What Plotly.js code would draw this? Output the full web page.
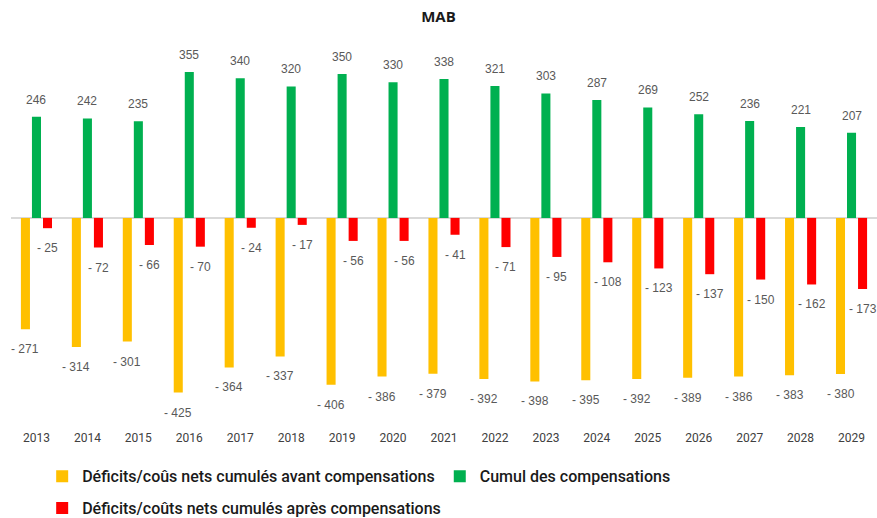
<!DOCTYPE html>
<html><head><meta charset="utf-8">
<script src="https://cdn.plot.ly/plotly-3.0.1.min.js"></script>
<style>body{margin:0;background:#fff}#c{width:877px;height:518px}</style>
</head><body><div id="c"></div>
<script>
const years = ['2013','2014','2015','2016','2017','2018','2019','2020','2021','2022','2023','2024','2025','2026','2027','2028','2029'];
const avant = [-271,-314,-301,-425,-364,-337,-406,-386,-379,-392,-398,-395,-392,-389,-386,-383,-380];
const compensations = [246,242,235,355,340,320,350,330,338,321,303,287,269,252,236,221,207];
const apres = [-25,-72,-66,-70,-24,-17,-56,-56,-41,-71,-95,-108,-123,-137,-150,-162,-173];
const names = ['Déficits/coûs nets cumulés avant compensations','Cumul des compensations','Déficits/coûts nets cumulés après compensations'];
const colors = ['#FFC000','#00B050','#FF0000'];

const fmt = v => v < 0 ? '- ' + Math.abs(v) : String(v);
const series = [avant, compensations, apres];
const traces = series.map((s,i)=>({
  type:'bar', x:years, y:s, name:names[i], marker:{color:colors[i]},
  hoverinfo:'skip', legend: i===2 ? 'legend2' : 'legend'
}));
const annotations = [];
const xs = [-11,0,11];
series.forEach((s,i)=>{
  s.forEach((v,j)=>{
    annotations.push({x:j, y:v, xref:'x', yref:'y', text:fmt(v), showarrow:false,
      xshift:xs[i], yshift: v<0 ? -20 : 17,
      font:{family:'Liberation Sans, Arial, sans-serif', size:12, color:'#595959'}});
  });
});
const legendFont = {family:'Roboto, sans-serif', size:16, weight:500, color:'#1a1a1a'};
const layout = {
  width:877, height:518,
  margin:{l:11, r:0, t:40, b:93, autoexpand:false},
  paper_bgcolor:'#fff', plot_bgcolor:'#fff',
  title:{text:'<b>MAB</b>', x:0.5, xanchor:'center', y:0.967, yanchor:'middle',
    font:{family:'Open Sans, sans-serif', size:15, color:'#1a1a1a'}},
  barmode:'group', bargap:0.35, bargroupgap:0.18,
  xaxis:{type:'category', range:[-0.5,16.5], autorange:false, showgrid:false, showline:false, ticks:'', ticklen:0,
    ticklabelstandoff:4,
    tickfont:{family:'Roboto, sans-serif', size:12, color:'#404040'}, fixedrange:true},
  yaxis:{range:[-504,433], autorange:false, showgrid:false, showticklabels:false, zeroline:true,
    zerolinecolor:'#d9d9d9', zerolinewidth:1.5, fixedrange:true},
  showlegend:true,
  legend:{orientation:'h', x:0.036, xanchor:'left', y:-0.089, yanchor:'top',
    font:legendFont, itemwidth:30, traceorder:'normal'},
  legend2:{orientation:'h', x:0.036, xanchor:'left', y:-0.172, yanchor:'top',
    font:legendFont, itemwidth:30},
  annotations:annotations
};
Plotly.newPlot('c', traces, layout, {displayModeBar:false, staticPlot:true});
</script></body></html>
